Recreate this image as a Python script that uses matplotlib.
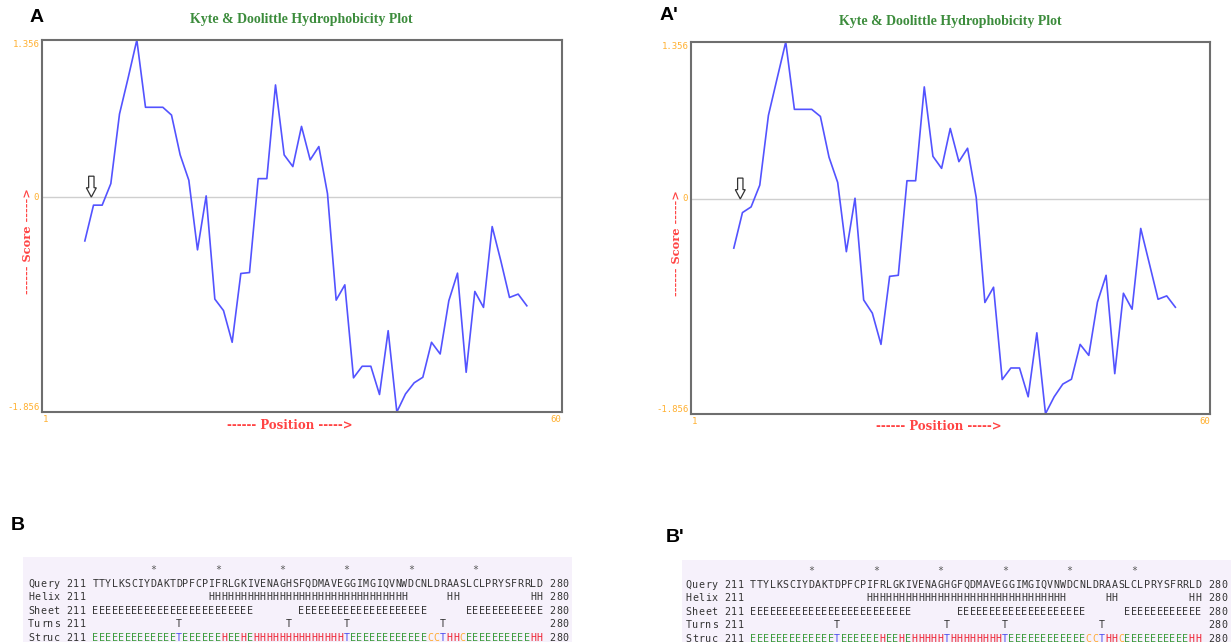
import matplotlib
matplotlib.use("Agg")
import matplotlib.pyplot as plt
from matplotlib.patches import FancyArrow

# Kyte & Doolittle scores (window centres 5..56)
positions = list(range(5, 57))
scores_a = [-0.379, -0.07, -0.07, 0.116, 0.717, 1.03, 1.356, 0.775, 0.775, 0.775,
            0.708, 0.364, 0.145, -0.456, 0.01, -0.881, -0.98, -1.254, -0.66, -0.652,
            0.159, 0.159, 0.968, 0.364, 0.263, 0.61, 0.321, 0.436, 0.029, -0.89,
            -0.758, -1.561, -1.461, -1.461, -1.705, -1.154, -1.856, -1.7, -1.604, -1.556,
            -1.254, -1.355, -0.895, -0.657, -1.513, -0.815, -0.953, -0.255, -0.551, -0.867,
            -0.838, -0.939]
scores_a2 = [-0.425, -0.118, -0.069, 0.119, 0.722, 1.04, 1.356, 0.774, 0.774, 0.774,
             0.713, 0.36, 0.142, -0.456, 0.006, -0.873, -0.987, -1.257, -0.669, -0.66,
             0.157, 0.157, 0.968, 0.368, 0.264, 0.609, 0.322, 0.438, 0.012, -0.895,
             -0.763, -1.561, -1.461, -1.461, -1.71, -1.157, -1.856, -1.71, -1.6, -1.558,
             -1.257, -1.352, -0.892, -0.66, -1.51, -0.815, -0.953, -0.255, -0.56, -0.867,
             -0.838, -0.936]
x_ticks = [0, 60]
x_tick_labels = ["1", "60"]
arrow_pos = 5.75

# secondary structure prediction rows (residues 211-280)
query_b = "TTYLKSCIYDAKTDPFCPIFRLGKIVENAGHSFQDMAVEGGIMGIQVNWDCNLDRAASLCLPRYSFRRLD"
query_b2 = "TTYLKSCIYDAKTDPFCPIFRLGKIVENAGHGFQDMAVEGGIMGIQVNWDCNLDRAASLCLPRYSFRRLD"
stars = (" " * 9 + "*") * 6 + " " * 10
helix = " " * 18 + "H" * 31 + " " * 6 + "HH" + " " * 11 + "HH"
sheet = "E" * 25 + " " * 7 + "E" * 20 + " " * 6 + "E" * 12
turns = " " * 13 + "T" + " " * 16 + "T" + " " * 8 + "T" + " " * 14 + "T" + " " * 15
struc_b = ("E" * 13 + "T" + "E" * 6 + "H" + "EE" + "H" + "E" + "H" * 14 + "T"
           + "E" * 12 + "CC" + "T" + "HH" + "C" + "E" * 10 + "HH")
struc_b2 = ("E" * 13 + "T" + "E" * 6 + "H" + "EE" + "H" + "E" + "H" * 5 + "T" + "H" * 8 + "T"
            + "E" * 12 + "CC" + "T" + "HH" + "C" + "E" * 10 + "HH")
start_res, end_res = 211, 280

struc_colors = {"E": "#3a9a3a", "H": "#ee2233", "T": "#4d4dee", "C": "#ffaa33"}

W, H = 1231, 642


def px_rect(left, top, right, bottom):
    return [left / W, 1 - bottom / H, (right - left) / W, (bottom - top) / H]


def hydro_panel(rect, scores):
    ax = fig.add_axes(rect)
    ymin, ymax = min(scores), max(scores)
    ax.axhline(0, color="#cfcfcf", lw=1.0, zorder=1)
    ax.plot(positions, scores, color="#5353ff", lw=1.2, clip_on=False, zorder=2)
    ax.set_xlim(x_ticks[0], x_ticks[-1])
    ax.set_ylim(ymin, ymax)
    ax.set_xticks([])
    ax.set_yticks([])
    for s in ax.spines.values():
        s.set_color("#6e6e6e")
        s.set_linewidth(1.5)

    tick_kw = dict(color="#ffb030", family="DejaVu Sans Mono", fontsize=6.5)
    ytr = ax.get_yaxis_transform()
    ax.text(-0.003, ymax, f"{ymax:.3f}", transform=ytr, ha="right", va="top", **tick_kw)
    ax.text(-0.005, 0, "0", transform=ytr, ha="right", va="center", **tick_kw)
    ax.text(-0.003, ymin, f"{ymin:.3f}", transform=ytr, ha="right", va="bottom", **tick_kw)
    xtr = ax.get_xaxis_transform()
    ax.text(x_ticks[0] + 0.1, -0.008, x_tick_labels[0], transform=xtr, ha="left", va="top", **tick_kw)
    ax.text(x_ticks[-1], -0.008, x_tick_labels[-1], transform=xtr, ha="right", va="top", **tick_kw)

    ax.text(0.5, 1.054, "Kyte & Doolittle Hydrophobicity Plot", transform=ax.transAxes,
            ha="center", va="center", color="#3c8c3c", family="Liberation Serif",
            fontsize=10, fontweight="bold")
    ax.text(-0.026, 0.46, "------ Score ----->", transform=ax.transAxes, rotation=90,
            ha="center", va="center", color="#ff4444", family="DejaVu Serif",
            fontsize=8.2, fontweight="bold")
    ax.text(0.478, -0.035, "------ Position ----->", transform=ax.transAxes,
            ha="center", va="center", color="#ff4444", family="DejaVu Serif",
            fontsize=8.5, fontweight="bold")

    arr = FancyArrow(arrow_pos, 0.18, 0, -0.18, width=0.62, head_width=1.15,
                     head_length=0.08, length_includes_head=True,
                     fc="white", ec="#333333", lw=0.9, zorder=3, clip_on=False)
    ax.add_patch(arr)
    return ax


def seq_panel(rect, query, struc, x_left, x_right, y_top, y_bottom):
    ax = fig.add_axes(rect)
    ax.set_xlim(x_left, x_right)
    ax.set_ylim(y_bottom, y_top)
    ax.axis("off")
    ax.add_patch(plt.Rectangle((x_left, y_top), x_right - x_left, y_bottom - y_top,
                               fc="#f6f1fb", ec="none", zorder=0))
    rows = [
        (" " * 10 + stars, False),
        (f"Query {start_res} " + query + f" {end_res}", False),
        (f"Helix {start_res} " + helix + f" {end_res}", False),
        (f"Sheet {start_res} " + sheet + f" {end_res}", False),
        (f"Turns {start_res} " + turns + f" {end_res}", False),
        (f"Struc {start_res} " + struc + f" {end_res}", True),
    ]
    for r, (line, coloured) in enumerate(rows):
        for i, ch in enumerate(line):
            if ch == " ":
                continue
            col = "#555555" if ch == "*" else "#333333"
            if coloured and 10 <= i < 80:
                col = struc_colors[ch]
            ax.text(i + 0.5, r, ch, ha="center", va="baseline", color=col,
                    family="DejaVu Sans Mono", fontsize=7.2, clip_on=True)
    return ax


fig = plt.figure(figsize=(W / 100, H / 100), dpi=100)

hydro_panel(px_rect(41.5, 40, 561.5, 412), scores_a)
hydro_panel(px_rect(690.5, 42, 1210, 413.7), scores_a2)

seq_panel(px_rect(23, 557, 572, 642), query_b, struc_b, -0.73, 84.52, -1.18, 5.07)
seq_panel(px_rect(681.7, 560, 1231, 642), query_b2, struc_b2, -0.59, 84.57, -1.03, 5.02)

letter_kw = dict(fontsize=14, fontweight="bold", family="Liberation Sans",
                 ha="left", va="center", color="black")
fig.text(30 / W, 1 - 17 / H, "A", **letter_kw)
fig.text(660 / W, 1 - 15 / H, "A'", **letter_kw)
fig.text(11 / W, 1 - 525 / H, "B", **letter_kw)
fig.text(666 / W, 1 - 537 / H, "B'", **letter_kw)

fig.savefig("out.png", dpi=100)
